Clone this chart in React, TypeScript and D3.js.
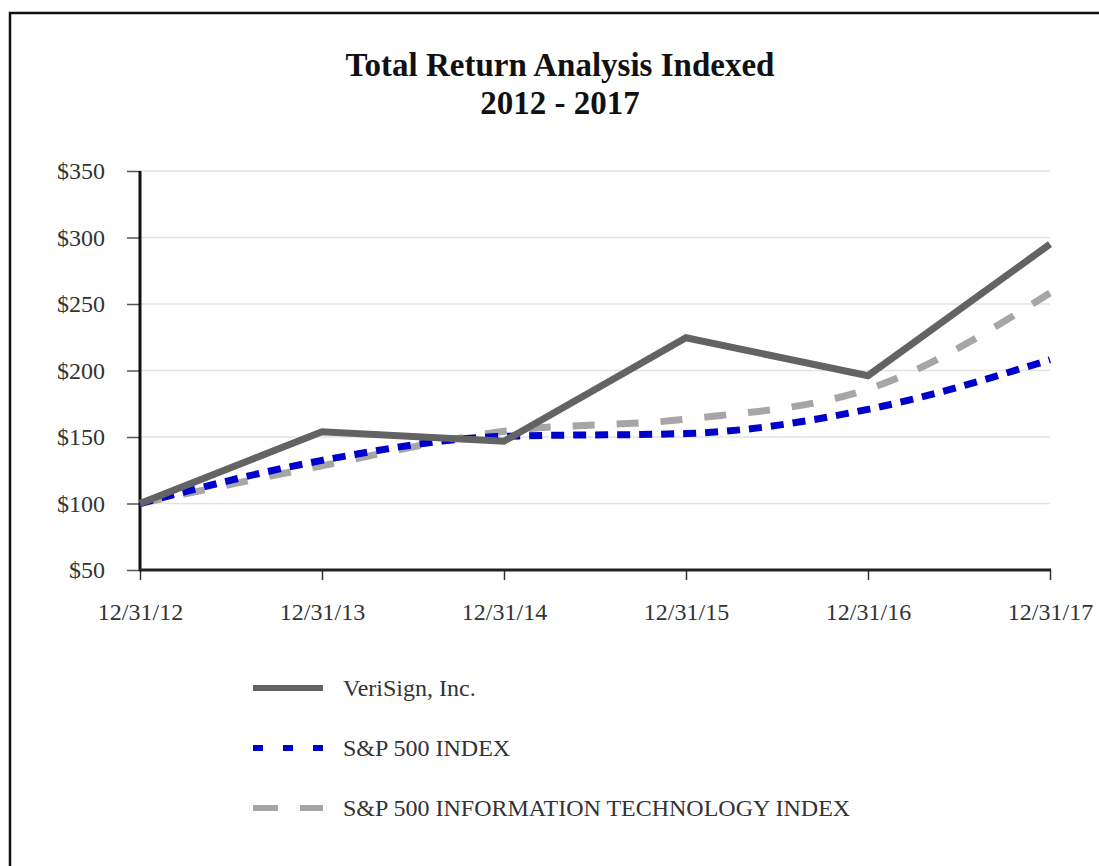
import { useEffect, useRef } from 'react';
import * as d3 from 'd3';

const dates = ['12/31/12', '12/31/13', '12/31/14', '12/31/15', '12/31/16', '12/31/17'];
const verisign = [100, 154, 146.8, 224.6, 196.1, 295];
const sp500 = [100, 132.4, 150.5, 152.6, 170.8, 208.1];
const spIT = [100, 128.4, 154.3, 163.4, 186, 258.3];
const yTicks = [50, 100, 150, 200, 250, 300, 350];

const series = [
  { name: 'VeriSign, Inc.', values: verisign, color: '#636363', dash: null, legendDash: null, curve: d3.curveLinear },
  { name: 'S&P 500 INDEX', values: sp500, color: '#0000cc', dash: '13,9', legendDash: '10,20', curve: d3.curveMonotoneX },
  { name: 'S&P 500 INFORMATION TECHNOLOGY INDEX', values: spIT, color: '#a6a6a6', dash: '22,22', legendDash: '25,22', curve: d3.curveMonotoneX },
];

const W = 1099;
const H = 866;
const font = '"Liberation Serif", "Times New Roman", serif';

export default function App() {
  const ref = useRef<SVGSVGElement>(null);

  useEffect(() => {
    if (!ref.current) return;
    const svg = d3.select(ref.current);
    svg.selectAll('*').remove();

    const x = d3.scalePoint<string>().domain(dates).range([140, 1050]);
    const y = d3.scaleLinear().domain([50, 350]).range([570, 171]);

    // frame (right and bottom edges run off the picture)
    svg.append('rect').attr('x', 10).attr('y', 13).attr('width', W + 20).attr('height', H + 20)
      .attr('fill', 'none').attr('stroke', '#111').attr('stroke-width', 2.5);

    // title
    svg.append('text').attr('x', 560).attr('y', 76).attr('text-anchor', 'middle')
      .attr('font-family', font).attr('font-weight', 'bold').attr('font-size', 33).attr('fill', '#111')
      .text('Total Return Analysis Indexed');
    svg.append('text').attr('x', 560).attr('y', 114).attr('text-anchor', 'middle')
      .attr('font-family', font).attr('font-weight', 'bold').attr('font-size', 33).attr('fill', '#111')
      .text('2012 - 2017');

    // gridlines
    svg.append('g').selectAll('line').data(yTicks.filter((t) => t > 50)).join('line')
      .attr('x1', 140).attr('x2', 1050)
      .attr('y1', (d) => y(d)).attr('y2', (d) => y(d))
      .attr('stroke', '#e3e3e3').attr('stroke-width', 1.5);

    // y axis
    const ya = svg.append('g').attr('transform', 'translate(140,0)')
      .call(d3.axisLeft(y).tickValues(yTicks).tickSize(13).tickPadding(22).tickFormat((d) => `$${d}`));
    ya.select('.domain').remove();
    ya.selectAll('.tick line').attr('stroke', '#555').attr('stroke-width', 1.5);
    ya.selectAll('text').attr('font-family', font).attr('font-size', 24).attr('fill', '#333');
    svg.append('line').attr('x1', 140).attr('x2', 140).attr('y1', 171).attr('y2', 571)
      .attr('stroke', '#111').attr('stroke-width', 3);

    // x axis
    const xa = svg.append('g').attr('transform', 'translate(0,570)')
      .call(d3.axisBottom(x).tickSize(10).tickPadding(23));
    xa.select('.domain').remove();
    xa.selectAll('.tick line').attr('stroke', '#333').attr('stroke-width', 1.5);
    xa.selectAll('text').attr('font-family', font).attr('font-size', 24).attr('fill', '#333');
    svg.append('line').attr('x1', 139).attr('x2', 1051).attr('y1', 570).attr('y2', 570)
      .attr('stroke', '#222').attr('stroke-width', 3);

    // lines (IT first, then S&P, then VeriSign on top)
    [2, 1, 0].forEach((i) => {
      const s = series[i];
      const line = d3.line<number>().x((_, j) => x(dates[j]) as number).y((d) => y(d)).curve(s.curve);
      svg.append('path').datum(s.values).attr('d', line)
        .attr('fill', 'none').attr('stroke', s.color).attr('stroke-width', 7)
        .attr('stroke-dasharray', s.dash ?? null);
    });

    // legend
    const lg = svg.append('g');
    series.forEach((s, i) => {
      const ly = 688 + i * 60;
      lg.append('line').attr('x1', 253).attr('x2', 323).attr('y1', ly).attr('y2', ly)
        .attr('stroke', s.color).attr('stroke-width', 6)
        .attr('stroke-dasharray', s.legendDash ?? null);
      lg.append('text').attr('x', 343).attr('y', ly + 8).attr('font-family', font).attr('font-size', 24)
        .attr('fill', '#333').text(s.name);
    });
  }, []);

  return (
    <svg
      ref={ref}
      width={W}
      height={H}
      viewBox={`0 0 ${W} ${H}`}
      style={{ position: 'absolute', left: 0, top: 0, background: '#fff' }}
    />
  );
}
